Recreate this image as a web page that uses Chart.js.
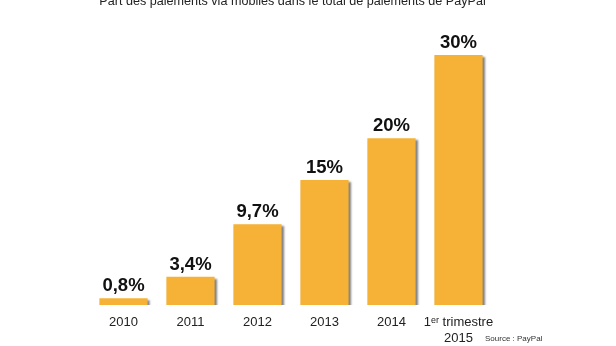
<!DOCTYPE html>
<html>
<head>
<meta charset="utf-8">
<script src="https://cdn.jsdelivr.net/npm/chart.js@4/dist/chart.umd.min.js"></script>
<style>
  html, body { margin: 0; padding: 0; background: #ffffff; }
  #wrap { width: 616px; height: 346px; position: relative; }
</style>
</head>
<body>
<div id="wrap"><canvas id="c" width="616" height="346"></canvas></div>
<script>
// Share of PayPal payments made via mobile
const categories = ['2010', '2011', '2012', '2013', '2014', ['1ᵉʳ trimestre', '2015']];
const shares = [0.8, 3.4, 9.7, 15, 20, 30];
const shareLabels = ['0,8%', '3,4%', '9,7%', '15%', '20%', '30%'];
const titleText = 'Part des paiements via mobiles dans le total de paiements de PayPal';
const sourceText = 'Source : PayPal';

const FONT = '"Liberation Sans", Arial, Helvetica, sans-serif';

// Soft drop shadow behind the bars
const barShadow = {
  id: 'barShadow',
  beforeDatasetsDraw(chart) {
    const ctx = chart.ctx;
    ctx.save();
    ctx.shadowColor = 'rgba(0,0,0,0.5)';
    ctx.shadowBlur = 2;
    ctx.shadowOffsetX = 2;
    ctx.shadowOffsetY = 2;
  },
  afterDatasetsDraw(chart) {
    chart.ctx.restore();
  }
};

// Value labels above bars, title and source note
const annotations = {
  id: 'annotations',
  afterDraw(chart) {
    const ctx = chart.ctx;
    const meta = chart.getDatasetMeta(0);
    ctx.save();
    ctx.fillStyle = '#111';
    ctx.font = 'bold 18.5px ' + FONT;
    ctx.textAlign = 'center';
    ctx.textBaseline = 'alphabetic';
    meta.data.forEach((bar, i) => {
      ctx.fillText(shareLabels[i], bar.x, bar.y - 7);
    });
    ctx.font = '12.6px ' + FONT;
    ctx.fillStyle = '#222';
    ctx.fillText(titleText, 292.5, 5);
    ctx.font = '8px ' + FONT;
    ctx.textAlign = 'left';
    ctx.fillStyle = '#333';
    ctx.fillText(sourceText, 485, 341);
    ctx.restore();
  }
};

new Chart(document.getElementById('c'), {
  type: 'bar',
  data: {
    labels: categories,
    datasets: [{
      data: shares,
      backgroundColor: '#F6B237',
      borderWidth: 0,
      categoryPercentage: 1,
      barPercentage: 0.72
    }]
  },
  options: {
    responsive: false,
    animation: false,
    layout: { padding: { left: 90, right: 124, top: 55, bottom: 0 } },
    plugins: { legend: { display: false }, tooltip: { enabled: false } },
    scales: {
      x: {
        grid: { display: false, drawTicks: false },
        border: { display: false },
        ticks: { color: '#222', font: { family: FONT, size: 13 }, padding: 10, maxRotation: 0, autoSkip: false },
        afterFit(scale) { scale.height = 41; }
      },
      y: { display: false, min: 0, max: 30 }
    }
  },
  plugins: [barShadow, annotations]
});
</script>
</body>
</html>
